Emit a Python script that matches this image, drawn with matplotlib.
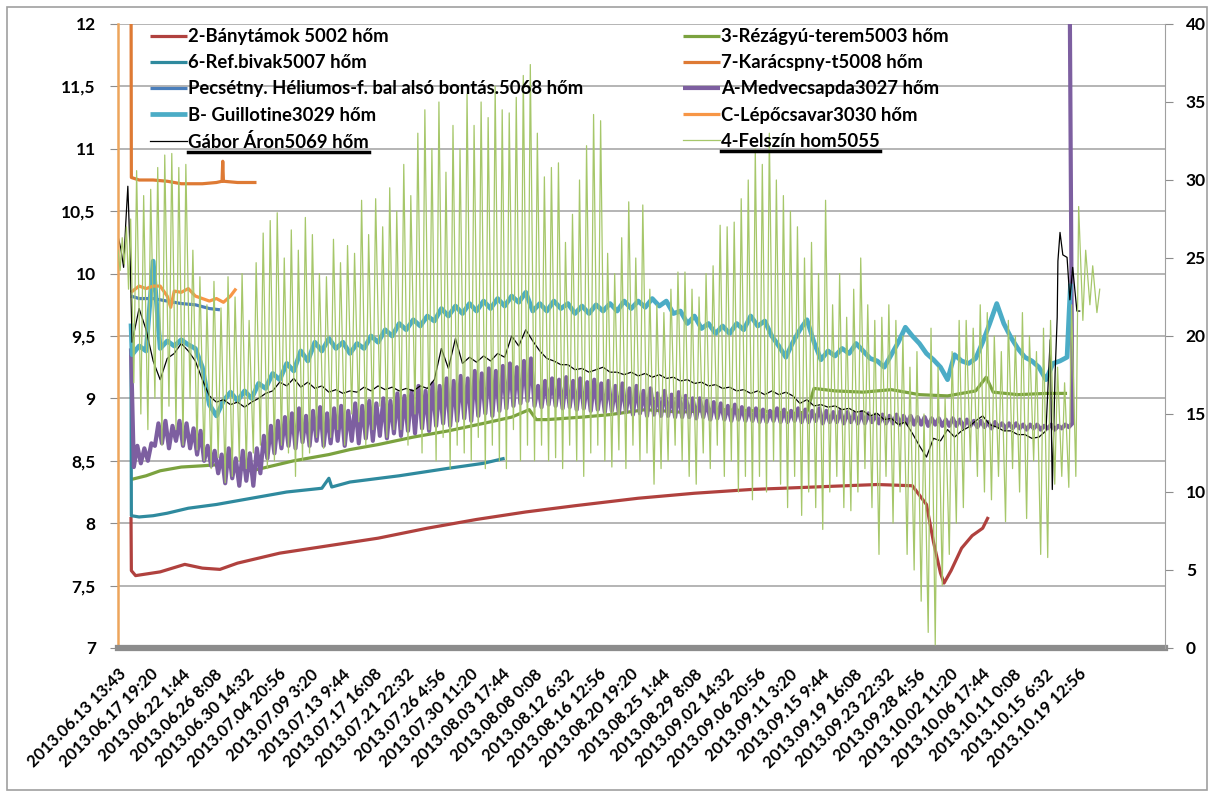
import numpy as np
import matplotlib.pyplot as plt
from matplotlib.lines import Line2D
from matplotlib.patches import Rectangle

plt.rcParams['font.family'] = ['Lato', 'DejaVu Sans']
plt.rcParams['font.weight'] = 'bold'

# x axis: sample position (about one unit per day); a label every tick_step units
tick_step = 4.55
tick_labels = ['2013.06.13 13:43', '2013.06.17 19:20', '2013.06.22 1:44', '2013.06.26 8:08',
               '2013.06.30 14:32', '2013.07.04 20:56', '2013.07.09 3:20', '2013.07.13 9:44',
               '2013.07.17 16:08', '2013.07.21 22:32', '2013.07.26 4:56', '2013.07.30 11:20',
               '2013.08.03 17:44', '2013.08.08 0:08', '2013.08.12 6:32', '2013.08.16 12:56',
               '2013.08.20 19:20', '2013.08.25 1:44', '2013.08.29 8:08', '2013.09.02 14:32',
               '2013.09.06 20:56', '2013.09.11 3:20', '2013.09.15 9:44', '2013.09.19 16:08',
               '2013.09.23 22:32', '2013.09.28 4:56', '2013.10.02 11:20', '2013.10.06 17:44',
               '2013.10.11 0:08', '2013.10.15 6:32', '2013.10.19 12:56']

# ---- smooth series (position, value) ----
red_days = [1.85, 1.9, 2.5, 6, 9.5, 12, 14.5, 17, 23, 30, 37, 44, 51, 58, 65, 74, 82, 90, 99, 108,
            113, 115, 116, 117, 117.5, 118.5, 120, 121.5, 123, 123.8]
red_vals = [8.05, 7.62, 7.58, 7.61, 7.67, 7.64, 7.63, 7.68, 7.76, 7.82, 7.88, 7.96, 8.03, 8.09, 8.14,
            8.20, 8.24, 8.27, 8.29, 8.31, 8.30, 8.15, 7.85, 7.60, 7.52, 7.62, 7.80, 7.90, 7.96, 8.05]

green_days = [1.85, 4, 6, 9, 12, 14.5, 17, 19, 22, 25, 30, 33, 37, 42, 47, 52, 56, 58.5, 59.5, 61,
              66, 70, 75, 80, 86, 91, 96, 98, 99, 102, 106, 110, 114, 118, 122, 123.5, 124.5, 128, 132, 135]
green_vals = [8.35, 8.38, 8.42, 8.45, 8.46, 8.47, 8.44, 8.42, 8.46, 8.50, 8.55, 8.59, 8.63, 8.69, 8.74,
              8.80, 8.85, 8.91, 8.83, 8.83, 8.85, 8.87, 8.91, 8.89, 8.91, 8.90, 8.88, 8.89, 9.08, 9.06,
              9.05, 9.07, 9.03, 9.02, 9.06, 9.17, 9.05, 9.03, 9.04, 9.04]

teal_days = [1.85, 1.9, 3, 5, 7, 10, 14, 19, 24, 29, 30, 30.4, 33, 40, 47, 52, 55]
teal_vals = [9.4, 8.06, 8.05, 8.06, 8.08, 8.12, 8.15, 8.20, 8.25, 8.28, 8.36, 8.29, 8.33, 8.38, 8.44, 8.48, 8.52]

kar_days = [1.85, 1.9, 3, 5, 7, 9, 10, 12, 14, 14.8, 14.9, 15.0, 17, 19.7]
kar_vals = [12.5, 10.77, 10.75, 10.75, 10.74, 10.72, 10.72, 10.72, 10.73, 10.74, 10.90, 10.74, 10.73, 10.73]

pecs_days = [1.85, 3, 5, 7, 9, 11, 13, 14.5]
pecs_vals = [9.82, 9.80, 9.80, 9.78, 9.76, 9.75, 9.72, 9.71]

lep_days = [1.85, 3, 4, 5, 6, 7, 7.5, 8, 9, 10, 11, 12, 13, 14, 15, 16, 16.8]
lep_vals = [9.85, 9.90, 9.88, 9.90, 9.90, 9.82, 9.73, 9.86, 9.85, 9.88, 9.82, 9.80, 9.78, 9.80, 9.77,
            9.82, 9.88]

# ---- daily series, starting at position 2 ----
# A-Medvecsapda: daily high and low of the noisy band
medve_hi = [8.62, 8.60, 8.64, 8.80, 8.82, 8.78, 8.82, 8.80, 8.76, 8.74,
            8.62, 8.58, 8.55, 8.60, 8.52, 8.58, 8.56, 8.60, 8.70, 8.78,
            8.82, 8.85, 8.88, 8.92, 8.86, 8.90, 8.93, 8.88, 8.92, 8.94,
            8.90, 8.96, 8.94, 8.98, 8.96, 9.00, 8.98, 9.04, 9.02, 9.06,
            9.10, 9.06, 9.12, 9.10, 9.16, 9.14, 9.18, 9.16, 9.22, 9.20,
            9.24, 9.22, 9.26, 9.28, 9.25, 9.30, 9.32, 9.10, 9.14, 9.16,
            9.15, 9.17, 9.14, 9.16, 9.13, 9.15, 9.12, 9.14, 9.10, 9.12,
            9.08, 9.10, 9.06, 9.08, 9.04, 9.06, 9.03, 9.05, 9.02, 9.00,
            9.00, 8.98, 8.97, 8.96, 8.94, 8.95, 8.93, 8.92, 8.92, 8.91,
            8.90, 8.92, 8.91, 8.90, 8.92, 8.91, 8.90, 8.92, 8.90, 8.89,
            8.90, 8.89, 8.88, 8.89, 8.88, 8.87, 8.87, 8.86, 8.87, 8.86,
            8.86, 8.85, 8.85, 8.84, 8.84, 8.83, 8.84, 8.83, 8.83, 8.82,
            8.82, 8.81, 8.81, 8.80, 8.80, 8.80, 8.79, 8.79, 8.79, 8.78,
            8.79, 8.78, 8.79, 8.80]
medve_lo = [8.45, 8.48, 8.50, 8.62, 8.64, 8.60, 8.66, 8.62, 8.60, 8.55,
            8.50, 8.46, 8.40, 8.32, 8.36, 8.30, 8.34, 8.30, 8.40, 8.52,
            8.56, 8.60, 8.62, 8.60, 8.65, 8.62, 8.66, 8.62, 8.64, 8.66,
            8.62, 8.66, 8.64, 8.68, 8.66, 8.70, 8.68, 8.72, 8.70, 8.74,
            8.72, 8.76, 8.74, 8.78, 8.80, 8.78, 8.82, 8.84, 8.82, 8.86,
            8.88, 8.86, 8.90, 8.92, 8.94, 8.96, 8.98, 8.94, 8.93, 8.95,
            8.94, 8.92, 8.93, 8.91, 8.92, 8.90, 8.91, 8.89, 8.90, 8.88,
            8.89, 8.87, 8.88, 8.86, 8.87, 8.86, 8.86, 8.85, 8.85, 8.85,
            8.84, 8.85, 8.83, 8.84, 8.83, 8.82, 8.83, 8.82, 8.82, 8.81,
            8.81, 8.82, 8.81, 8.81, 8.82, 8.81, 8.81, 8.82, 8.80, 8.81,
            8.81, 8.80, 8.81, 8.80, 8.80, 8.81, 8.80, 8.80, 8.80, 8.79,
            8.80, 8.79, 8.79, 8.78, 8.79, 8.78, 8.78, 8.78, 8.77, 8.78,
            8.77, 8.77, 8.76, 8.77, 8.76, 8.76, 8.76, 8.75, 8.76, 8.75,
            8.76, 8.75, 8.76, 8.77]
medve_head = [9.40]
medve_tail = [13.0]

guill_daily = [9.35, 9.42, 9.38, 10.10, 9.40, 9.46, 9.42, 9.47, 9.43, 9.40,
               9.25, 8.95, 8.86, 8.98, 9.05, 8.98, 9.06, 9.00, 9.12, 9.08,
               9.20, 9.15, 9.28, 9.22, 9.38, 9.30, 9.45, 9.38, 9.48, 9.40,
               9.45, 9.36, 9.44, 9.40, 9.50, 9.45, 9.55, 9.50, 9.60, 9.55,
               9.63, 9.58, 9.66, 9.62, 9.72, 9.66, 9.74, 9.68, 9.76, 9.70,
               9.78, 9.72, 9.80, 9.74, 9.82, 9.77, 9.85, 9.70, 9.76, 9.70,
               9.78, 9.72, 9.76, 9.68, 9.74, 9.68, 9.75, 9.70, 9.76, 9.70,
               9.78, 9.72, 9.78, 9.73, 9.80, 9.74, 9.78, 9.68, 9.70, 9.60,
               9.66, 9.56, 9.60, 9.52, 9.58, 9.52, 9.60, 9.55, 9.66, 9.58,
               9.62, 9.50, 9.42, 9.33, 9.45, 9.55, 9.63, 9.45, 9.31, 9.38,
               9.34, 9.40, 9.36, 9.44, 9.38, 9.32, 9.30, 9.25, 9.35, 9.45,
               9.57, 9.50, 9.44, 9.36, 9.31, 9.25, 9.15, 9.35, 9.30, 9.28,
               9.32, 9.45, 9.60, 9.76, 9.60, 9.49, 9.40, 9.33, 9.30, 9.25,
               9.15, 9.28, 9.30, 9.33]
guill_head = [9.60]
guill_tail = [9.70, 9.92]

gabor_daily = [9.45, 9.72, 9.55, 9.30, 9.15, 9.32, 9.36, 9.44, 9.38, 9.30,
               9.15, 9.02, 8.97, 8.99, 8.95, 8.97, 8.93, 8.97, 9.00, 9.04,
               9.06, 9.13, 9.10, 9.16, 9.09, 9.13, 9.08, 9.10, 9.05, 9.07,
               9.04, 9.06, 9.05, 9.09, 9.06, 9.10, 9.07, 9.09, 9.06, 9.08,
               9.06, 9.10, 9.08, 9.15, 9.40, 9.24, 9.48, 9.28, 9.33, 9.29,
               9.34, 9.30, 9.36, 9.33, 9.50, 9.42, 9.55, 9.46, 9.38, 9.32,
               9.30, 9.27, 9.27, 9.23, 9.24, 9.21, 9.23, 9.25, 9.21, 9.21,
               9.19, 9.21, 9.18, 9.20, 9.17, 9.19, 9.16, 9.17, 9.14, 9.15,
               9.12, 9.13, 9.10, 9.11, 9.08, 9.09, 9.06, 9.07, 9.04, 9.06,
               9.03, 9.06, 9.03, 9.05, 9.02, 8.96, 8.99, 8.94, 8.95, 8.93,
               8.94, 8.91, 8.92, 8.89, 8.90, 8.86, 8.88, 8.83, 8.84, 8.79,
               8.81, 8.72, 8.62, 8.53, 8.68, 8.66, 8.75, 8.69, 8.74, 8.77,
               8.82, 8.86, 8.79, 8.77, 8.74, 8.74, 8.71, 8.71, 8.68, 8.69,
               8.74]
gabor_head_days = [0.0, 0.4, 0.8, 1.1, 1.4, 1.7]
gabor_head = [10.30, 10.20, 10.05, 10.40, 10.70, 10.20]
gabor_tail_days = [132.6, 132.9, 133.3, 133.6, 133.7, 134.0, 134.4, 135.0, 135.4, 135.8, 136.4, 136.8]
gabor_tail = [9.47, 8.27, 9.20, 9.65, 10.10, 10.33, 10.15, 10.13, 9.79, 10.05, 9.70, 9.70]

# surface logger (right axis): daily maximum and minimum from position 2
felszin_max = [30.6, 29.0, 29.4, 30.8, 31.6, 31.7, 30.8, 31.0, 25.5, 23.8,
               22.0, 23.5, 21.8, 23.8, 22.5, 24.0, 21.0, 24.7, 26.6, 27.4,
               27.9, 25.0, 26.8, 25.5, 27.6, 26.5, 24.0, 23.8, 26.2, 24.7,
               25.8, 25.3, 28.7, 26.5, 28.8, 27.0, 29.5, 28.0, 31.0, 29.0,
               33.0, 34.5, 32.0, 35.0, 30.5, 33.5, 32.0, 35.5, 33.5, 35.0,
               34.0, 36.0, 34.5, 34.3, 35.3, 36.7, 37.4, 33.0, 30.2, 30.8,
               31.1, 26.0, 27.8, 30.0, 32.2, 34.2, 33.8, 25.3, 24.0, 26.3,
               28.6, 25.0, 28.4, 23.0, 22.0, 21.5, 23.0, 24.1, 24.1, 23.0,
               22.5, 24.0, 24.5, 27.1, 27.0, 27.3, 28.8, 30.0, 32.0, 31.0,
               33.0, 30.0, 29.0, 28.0, 27.0, 25.0, 26.0, 24.0, 28.7, 22.0,
               24.0, 21.2, 23.0, 25.0, 22.0, 21.0, 21.2, 22.0, 21.0, 20.0,
               18.0, 19.0, 15.0, 20.5, 18.0, 16.0, 19.0, 21.0, 21.0, 20.5,
               22.0, 21.5, 20.0, 19.0, 21.0, 20.0, 21.5, 20.0, 19.0, 20.5,
               21.0, 18.0, 17.0, 22.0, 28.3, 25.5, 24.5, 23.0]
felszin_min = [17.0, 15.0, 14.0, 16.0, 13.0, 15.5, 14.0, 13.0, 16.0, 12.7,
               12.0, 11.5, 12.2, 10.6, 11.0, 12.0, 11.5, 12.5, 13.0, 11.5,
               12.0, 13.0, 12.5, 11.0, 12.0, 12.5, 13.5, 12.8, 13.5, 14.0,
               13.0, 15.0, 14.5, 13.0, 14.0, 15.5, 13.5, 14.0, 14.0, 13.0,
               15.0, 12.5, 14.0, 12.0, 13.5, 11.5, 13.0, 12.5, 12.0, 13.5,
               11.5, 13.0, 12.0, 11.5, 14.0, 12.0, 13.0, 12.0, 13.0, 12.0,
               12.2, 11.5, 13.0, 12.0, 11.0, 12.5, 13.0, 12.0, 11.6, 12.7,
               11.5, 13.0, 12.0, 12.5, 10.5, 11.5, 12.0, 13.0, 12.0, 11.0,
               10.5, 12.5, 11.5, 13.0, 11.0, 12.0, 10.0, 11.0, 9.5, 11.0,
               10.0, 12.0, 10.5, 9.0, 11.0, 8.5, 10.0, 9.0, 7.6, 10.0,
               11.0, 9.0, 8.8, 10.0, 11.5, 9.0, 6.0, 11.0, 8.0, 10.0,
               6.0, 5.0, 3.0, 1.0, 0.2, 4.0, 6.0, 8.0, 9.0, 12.0,
               11.0, 10.0, 9.5, 11.0, 8.1, 11.5, 10.0, 8.3, 12.0, 6.0,
               5.8, 10.5, 11.0, 10.3, 11.0, 21.0, 22.0, 21.5]
felszin_head_days = [0.0, 0.3, 0.6, 0.9, 1.2, 1.5, 1.8]
felszin_head = [25.5, 24.2, 26.3, 24.6, 27.0, 23.0, 27.5]

names = ['2-Bánytámok 5002 hőm', '3-Rézágyú-terem5003 hőm', '6-Ref.bivak5007 hőm',
         '7-Karácspny-t5008 hőm', 'Pecsétny. Héliumos-f. bal alsó bontás.5068 hőm',
         'A-Medvecsapda3027 hőm', 'B- Guillotine3029 hőm', 'C-Lépőcsavar3030 hőm',
         'Gábor Áron5069 hőm', '4-Felszín hom5055']
colors = ['#B0413E', '#7BA23F', '#2F8A9E', '#DE7A34', '#4A7EBB', '#7D5FA0', '#4BACC6',
          '#F79646', '#000000', '#A6C76A']

# assemble the positions of the daily series
day_m = 2 + np.arange(len(medve_hi))
d_medve = np.concatenate([[1.85], np.ravel(np.column_stack([day_m + 0.25, day_m + 0.75])), [135.3]])
v_medve = np.concatenate([medve_head, np.ravel(np.column_stack([medve_lo, medve_hi])), medve_tail])
d_guill = np.concatenate([[1.85], 2 + np.arange(len(guill_daily)), [135.3, 135.5]])
v_guill = np.concatenate([guill_head, guill_daily, guill_tail])
d_gabor = np.concatenate([gabor_head_days, 2 + np.arange(len(gabor_daily)), gabor_tail_days])
v_gabor = np.concatenate([gabor_head, gabor_daily, gabor_tail])
day_idx = 2 + np.arange(len(felszin_max))
d_fel = np.concatenate([felszin_head_days, np.ravel(np.column_stack([day_idx + 0.25, day_idx + 0.65]))])
v_fel = np.concatenate([felszin_head, np.ravel(np.column_stack([felszin_min, felszin_max]))])

W, H = 1214, 794
fig = plt.figure(figsize=(W / 100, H / 100), dpi=100)
ax = fig.add_axes([118 / W, 146 / H, 1047 / W, 624 / H])
ax2 = ax.twinx()

thick = 2.3
kw = dict(solid_joinstyle='round', solid_capstyle='butt')
lines = []
lines.append(ax.plot(red_days, red_vals, color=colors[0], lw=thick, label=names[0], **kw)[0])
lines.append(ax.plot(green_days, green_vals, color=colors[1], lw=thick, label=names[1], **kw)[0])
lines.append(ax.plot(teal_days, teal_vals, color=colors[2], lw=thick, label=names[2], **kw)[0])
lines.append(ax.plot(kar_days, kar_vals, color=colors[3], lw=thick, label=names[3], **kw)[0])
lines.append(ax.plot(pecs_days, pecs_vals, color=colors[4], lw=thick, label=names[4], **kw)[0])
lines.append(ax.plot(d_medve, v_medve, color=colors[5], lw=3.0, label=names[5], **kw)[0])
lines.append(ax.plot(d_guill, v_guill, color=colors[6], lw=3.4, label=names[6], **kw)[0])
lines.append(ax.plot(lep_days, lep_vals, color=colors[7], lw=thick, label=names[7], **kw)[0])
lines.append(ax.plot(d_gabor, v_gabor, color=colors[8], lw=0.9, label=names[8])[0])
lines.append(ax2.plot(d_fel, v_fel, color=colors[9], lw=0.9, label=names[9])[0])

ax.set_xlim(0, 1047 / 7.03)
ax.set_ylim(7, 12)
ax2.set_ylim(0, 40)

yt = np.arange(7, 12.01, 0.5)
ax.set_yticks(yt)
ax.set_yticklabels([('%g' % t).replace('.', ',') for t in yt], fontsize=12.5)
ax2.set_yticks(np.arange(0, 41, 5))
ax2.set_yticklabels([str(t) for t in range(0, 41, 5)], fontsize=12.5)
ax.set_xticks(np.arange(len(tick_labels)) * tick_step)
ax.set_xticklabels(tick_labels, rotation=45, ha='right', va='top', rotation_mode='anchor', fontsize=12)

ax.tick_params(axis='x', length=0, pad=13)
ax.tick_params(axis='y', length=6, color='#8c8c8c', pad=10)
ax2.tick_params(axis='y', length=6, color='#8c8c8c', pad=9)

ax.yaxis.grid(True, color='#a8a8a8', lw=1.2)
ax.set_axisbelow(True)
ax2.patch.set_visible(False)

for s in ['top', 'right']:
    ax.spines[s].set_visible(False)
for s in ['top', 'left', 'bottom']:
    ax2.spines[s].set_visible(False)
ax2.spines['right'].set_color('#a0a0a0')
ax.spines['left'].set_color('#EDA55C')
ax.spines['left'].set_linewidth(1.8)
ax.spines['bottom'].set_color('#8c8c8c')
ax.spines['bottom'].set_linewidth(4.5)

leg_kw = dict(loc='upper left', frameon=False, fontsize=13.3, handlelength=2.0,
              handletextpad=0.05, labelspacing=0.5, borderpad=0, borderaxespad=0)
col1 = [lines[i] for i in (0, 2, 4, 6, 8)]
col2 = [lines[i] for i in (1, 3, 5, 7, 9)]
leg1 = fig.legend(handles=col1, bbox_to_anchor=(150 / W, 1 - 28 / H), **leg_kw)
leg2 = fig.legend(handles=col2, bbox_to_anchor=(683 / W, 1 - 28 / H), **leg_kw)

fig.add_artist(Rectangle((7 / W, 4 / H), 1200 / W, 783 / H, transform=fig.transFigure,
                         fill=False, edgecolor='#a0a0a0', lw=1.2))

# underline under the last legend entries
fig.canvas.draw()
r = fig.canvas.get_renderer()
for leg in (leg1, leg2):
    bb = leg.get_texts()[-1].get_window_extent(r)
    fig.add_artist(Line2D([bb.x0 / W, bb.x1 / W], [(bb.y0 - 1) / H] * 2,
                          transform=fig.transFigure, color='black', lw=2.5))

fig.savefig('out.png', dpi=100)
